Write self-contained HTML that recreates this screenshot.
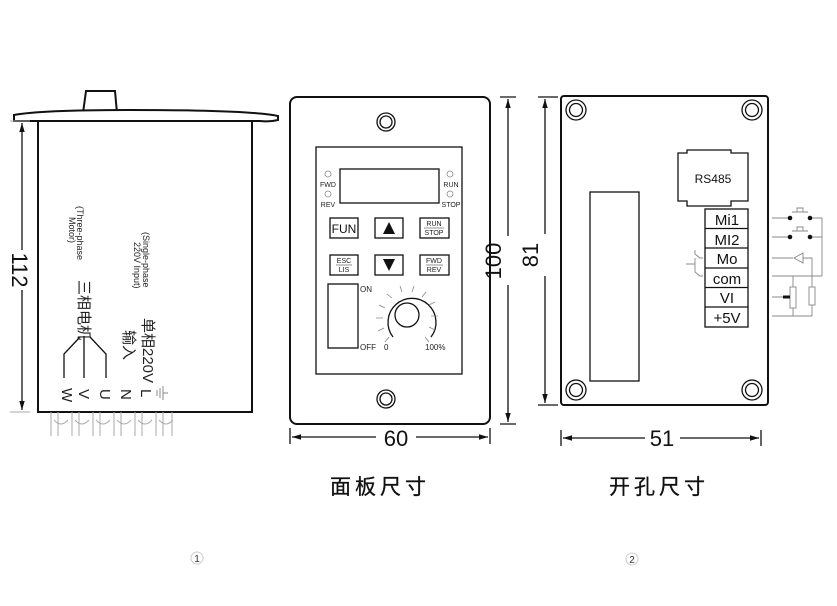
<!DOCTYPE html>
<html><head><meta charset="utf-8"><style>
html,body{margin:0;padding:0;background:#fff;}
svg{display:block;font-family:"Liberation Sans","Noto Sans CJK SC",sans-serif;}
</style></head><body>
<svg width="837" height="606" viewBox="0 0 837 606" xmlns="http://www.w3.org/2000/svg">
<defs>
<marker id="ar" viewBox="0 0 10 10" refX="10" refY="5" markerWidth="7" markerHeight="7" orient="auto-start-reverse"><path d="M0,2 L10,5 L0,8 z" fill="#111"/></marker>
</defs>
<g stroke="#111" fill="none" stroke-width="2">
<path d="M83,113 L86,91 L115,91 L117,113"/>
<path d="M14,121 L14,115 Q40,110 130,110 Q250,110 278,116 L278,120 Q270,122 260,121 L14,121 Z" fill="#fff"/>
<rect x="38" y="121" width="214" height="291"/>
</g>
<g stroke="#aaa" fill="none" stroke-width="1">
<path d="M51,412 v24 M58,412 v24 M72,412 v24 M79,412 v24 M93,412 v24 M100,412 v24 M114,412 v24 M121,412 v24 M135,412 v24 M142,412 v24 M156,412 v24 M163,412 v24 M172,412 v24"/>
<path d="M54,420 q7,8 14,0 M75,420 q7,8 14,0 M96,420 q7,8 14,0 M117,420 q7,8 14,0 M138,420 q7,8 14,0 M159,420 q7,8 14,0"/>
<path d="M10,121 h20 M10,412 h20"/>
</g>
<g stroke="#111" stroke-width="1.3" fill="none">
<line x1="22" y1="123" x2="22" y2="250" marker-start="url(#ar)"/>
<line x1="22" y1="290" x2="22" y2="410" marker-end="url(#ar)"/>
<path d="M80,337 L64,354 L64,378 M84,336 L84,378 M90,337 L106,354 L106,378"/>
</g>
<text transform="translate(12,270) rotate(90)" font-size="22" text-anchor="middle" fill="#111">112</text>
<g fill="#222">
<text transform="translate(79,280) rotate(90)" font-size="15">三相电机</text>
<text transform="translate(77,206) rotate(90)" font-size="9">(Three-phase</text>
<text transform="translate(69,217) rotate(90)" font-size="9">Motor)</text>
<text transform="translate(143,318) rotate(90)" font-size="15">单相220V</text>
<text transform="translate(124,330) rotate(90)" font-size="15">输入</text>
<text transform="translate(143,232) rotate(90)" font-size="9">(Single-phase</text>
<text transform="translate(134,242) rotate(90)" font-size="9">220V Input)</text>
<text transform="translate(62,388) rotate(90)" font-size="15">W</text>
<text transform="translate(79,389) rotate(90)" font-size="15">V</text>
<text transform="translate(100,389) rotate(90)" font-size="15">U</text>
<text transform="translate(121,389) rotate(90)" font-size="15">N</text>
<text transform="translate(141,389) rotate(90)" font-size="15">L</text>
</g>
<g stroke="#888" stroke-width="1"><path d="M163,386 v14 M160,388 v10 M157,390 v6 M163,393 h5"/></g>

<g stroke="#111" fill="none" stroke-width="2">
<rect x="290" y="97" width="200" height="327" rx="7"/>
</g>
<g stroke="#111" fill="none" stroke-width="1.3">
<circle cx="386" cy="122" r="9"/><circle cx="386" cy="122" r="6"/>
<circle cx="386" cy="399" r="9"/><circle cx="386" cy="399" r="6"/>
<rect x="316" y="147" width="146" height="227"/>
<rect x="340" y="169" width="99" height="34"/>
<rect x="330" y="218" width="28" height="20"/>
<rect x="375" y="218" width="28" height="20"/>
<rect x="420" y="218" width="29" height="20"/>
<rect x="330" y="255" width="28" height="20"/>
<rect x="375" y="255" width="28" height="20"/>
<rect x="420" y="255" width="29" height="20"/>
<rect x="328" y="284" width="30" height="64"/>
<circle cx="407" cy="315" r="12"/>
<path d="M393,337 A24,24 0 1 1 431,337"/>
</g>
<g stroke="#888" fill="none" stroke-width="0.8">
<circle cx="328" cy="174" r="3"/><circle cx="328" cy="194" r="3"/>
<circle cx="450" cy="174" r="3"/><circle cx="450" cy="194" r="3"/>
<path d="M389,337 l-4,5 M384,328 l-6,3 M383,318 l-7,0 M385,308 l-6,-3 M392,298 l-5,-4 M402,292 l-2,-6 M412,292 l2,-6 M422,297 l4,-5 M429,305 l6,-3 M431,316 l7,0 M429,327 l6,3 M425,337 l4,5"/>
</g>
<g fill="#222" font-size="7" text-anchor="middle">
<text x="328" y="187">FWD</text><text x="328" y="207">REV</text>
<text x="451" y="187">RUN</text><text x="451" y="207">STOP</text>
<text x="434" y="226">RUN</text><text x="434" y="235">STOP</text>
<text x="344" y="263">ESC</text><text x="344" y="272">LIS</text>
<text x="434" y="263">FWD</text><text x="434" y="272">REV</text>
</g>
<g stroke="#222" stroke-width="0.6"><path d="M424,228 h20 M336,265 h16 M426,265 h17"/></g>
<text x="344" y="233" font-size="12" text-anchor="middle" fill="#111">FUN</text>
<path d="M389,222 L395,234 L383,234 Z" fill="#111"/>
<path d="M383,259 L395,259 L389,271 Z" fill="#111"/>
<g fill="#222" font-size="8"><text x="360" y="292">ON</text><text x="360" y="350">OFF</text><text x="384" y="350">0</text><text x="425" y="350">100%</text></g>
<g stroke="#111" stroke-width="1.3" fill="none">
<path d="M500,97 h16 M500,424 h16"/>
<line x1="508" y1="99" x2="508" y2="236" marker-start="url(#ar)"/>
<line x1="508" y1="285" x2="508" y2="422" marker-end="url(#ar)"/>
<path d="M290,428 v16 M490,428 v16"/>
<line x1="292" y1="437" x2="376" y2="437" marker-start="url(#ar)"/>
<line x1="416" y1="437" x2="488" y2="437" marker-end="url(#ar)"/>
</g>
<text transform="translate(501,261) rotate(-90)" font-size="22" text-anchor="middle" fill="#111">100</text>
<text x="396" y="446" font-size="22" text-anchor="middle" fill="#111">60</text>

<g stroke="#111" fill="none" stroke-width="2">
<rect x="561" y="96" width="207" height="309" rx="3"/>
</g>
<g stroke="#111" fill="none" stroke-width="1.3">
<circle cx="576" cy="110" r="10"/><circle cx="576" cy="110" r="6.5"/>
<circle cx="752" cy="110" r="10"/><circle cx="752" cy="110" r="6.5"/>
<circle cx="576" cy="390" r="10"/><circle cx="576" cy="390" r="6.5"/>
<circle cx="752" cy="390" r="10"/><circle cx="752" cy="390" r="6.5"/>
<rect x="590" y="192" width="49" height="189"/>
<path d="M687,150 H731 V153 H748 V201 H731 V206 H687 V201 H678 V153 H687 Z"/>
<rect x="705" y="209" width="43" height="118"/>
<path d="M705,228.5 h43 M705,248 h43 M705,268 h43 M705,287.5 h43 M705,307 h43"/>
</g>
<text x="713" y="183" font-size="12" text-anchor="middle" fill="#111">RS485</text>
<g fill="#111" font-size="15" text-anchor="middle">
<text x="727" y="225">Mi1</text><text x="727" y="245">MI2</text><text x="727" y="264">Mo</text>
<text x="727" y="284">com</text><text x="727" y="303">VI</text><text x="727" y="323">+5V</text>
</g>
<g stroke="#888" fill="none" stroke-width="0.9">
<path d="M703,258 h-3 l-5,-4 v-4 M695,258 v14 l5,4 h3 M695,264 h-9"/>
<path d="M772,218 H790 M810,218 H822 V276 M792,212 H808 M797,212 v-4 h6 v4"/>
<path d="M772,237 H790 M810,237 H822 M792,231 H808 M797,231 v-4 h6 v4"/>
<path d="M772,258 H793 M803,253 v10 L794,258 Z M803,258 H812 V287 M812,305 V316 M772,276 H822"/>
<rect x="809" y="287" width="6" height="18"/>
<path d="M793,276 V287 M793,308 V316 M772,316 H812 M772,297 H784"/>
<rect x="790" y="287" width="6" height="21"/>
</g>
<g fill="#111"><circle cx="790" cy="218" r="2.3"/><circle cx="810" cy="218" r="2.3"/><circle cx="790" cy="237" r="2.3"/><circle cx="810" cy="237" r="2.3"/><rect x="783" y="295.5" width="7" height="3"/></g>
<g stroke="#111" stroke-width="1.3" fill="none">
<path d="M538,97 h20 M538,405 h20"/>
<line x1="545" y1="99" x2="545" y2="234" marker-start="url(#ar)"/>
<line x1="545" y1="276" x2="545" y2="403" marker-end="url(#ar)"/>
<path d="M561,430 v16 M761,430 v16"/>
<line x1="563" y1="438" x2="645" y2="438" marker-start="url(#ar)"/>
<line x1="680" y1="438" x2="759" y2="438" marker-end="url(#ar)"/>
</g>
<text transform="translate(538,255) rotate(-90)" font-size="22" text-anchor="middle" fill="#111">81</text>
<text x="662" y="446" font-size="22" text-anchor="middle" fill="#111">51</text>

<text x="330" y="494" font-size="21" fill="#111" stroke="#111" stroke-width="0.3" letter-spacing="4">面板尺寸</text>
<text x="609" y="494" font-size="21" fill="#111" stroke="#111" stroke-width="0.3" letter-spacing="4">开孔尺寸</text>
<circle cx="197" cy="558" r="6" stroke="#ccc" fill="none"/>
<text x="197" y="562" font-size="10" text-anchor="middle" fill="#333">1</text>
<circle cx="632" cy="559" r="6" stroke="#ccc" fill="none"/>
<text x="632" y="563" font-size="10" text-anchor="middle" fill="#333">2</text>
</svg>
</body></html>
